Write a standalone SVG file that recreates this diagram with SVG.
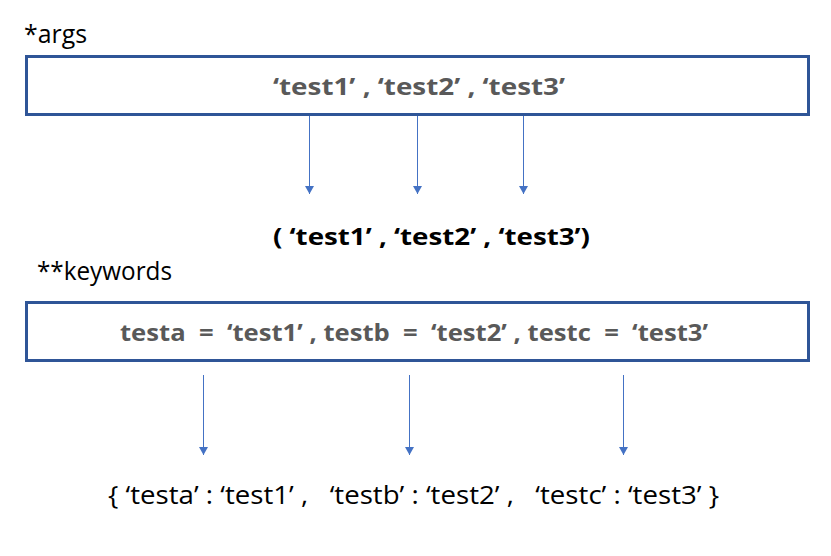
<svg xmlns="http://www.w3.org/2000/svg" width="831" height="556" viewBox="0 0 831 556">
<style>
.box{fill:#ffffff;stroke:#2F5597;stroke-width:3}
.lbl{font-family:"Open Sans","Noto Sans","Liberation Sans",sans-serif;font-size:25px;fill:#000000}
.inbox{font-family:"Open Sans","Noto Sans","Liberation Sans",sans-serif;font-size:24px;font-weight:bold;fill:#595959;white-space:pre}
.res{font-family:"Open Sans","Noto Sans","Liberation Sans",sans-serif;font-size:24px;font-weight:bold;fill:#000000}
.dict{font-family:"Open Sans","Noto Sans","Liberation Sans",sans-serif;font-size:26px;fill:#000000;white-space:pre}
.conn{stroke:#4472C4;stroke-width:1;fill:none;marker-end:url(#ah)}
</style>
<defs>
<marker id="ah" markerWidth="8" markerHeight="9" refX="8" refY="4.5" orient="auto" markerUnits="userSpaceOnUse">
<path d="M0,0 L8,4.5 L0,9 Z" fill="#4472C4"/>
</marker>
</defs>
<rect width="831" height="556" fill="#ffffff"/>
<g id="args-label"><text class="lbl" x="24" y="43" textLength="63" lengthAdjust="spacingAndGlyphs">*args</text></g>
<g id="args-box">
<rect class="box" x="26.5" y="56.5" width="782" height="58"/>
<text class="inbox" x="273" y="95" textLength="292" lengthAdjust="spacingAndGlyphs">‘test1’ , ‘test2’ , ‘test3’</text>
</g>
<g id="args-result"><text class="res" x="273" y="245" textLength="317" lengthAdjust="spacingAndGlyphs">( ‘test1’ , ‘test2’ , ‘test3’)</text></g>
<g id="kw-label"><text class="lbl" x="37" y="280" textLength="135" lengthAdjust="spacingAndGlyphs">**keywords</text></g>
<g id="kw-box">
<rect class="box" x="26.5" y="302.5" width="782" height="58"/>
<text class="inbox" x="120" y="341" textLength="588" lengthAdjust="spacingAndGlyphs">testa  =  ‘test1’ , testb  =  ‘test2’ , testc  =  ‘test3’</text>
</g>
<g id="kw-result"><text class="dict" x="108" y="504" textLength="611" lengthAdjust="spacingAndGlyphs">{ ‘testa’ : ‘test1’ ,   ‘testb’ : ‘test2’ ,   ‘testc’ : ‘test3’ }</text></g>
<g id="connectors">
<line class="conn" x1="309.5" y1="116" x2="309.5" y2="194"/>
<line class="conn" x1="417.5" y1="116" x2="417.5" y2="194"/>
<line class="conn" x1="523.5" y1="116" x2="523.5" y2="194"/>
<line class="conn" x1="203.5" y1="375" x2="203.5" y2="455"/>
<line class="conn" x1="409.5" y1="375" x2="409.5" y2="455"/>
<line class="conn" x1="623.5" y1="375" x2="623.5" y2="455"/>
</g>
</svg>
